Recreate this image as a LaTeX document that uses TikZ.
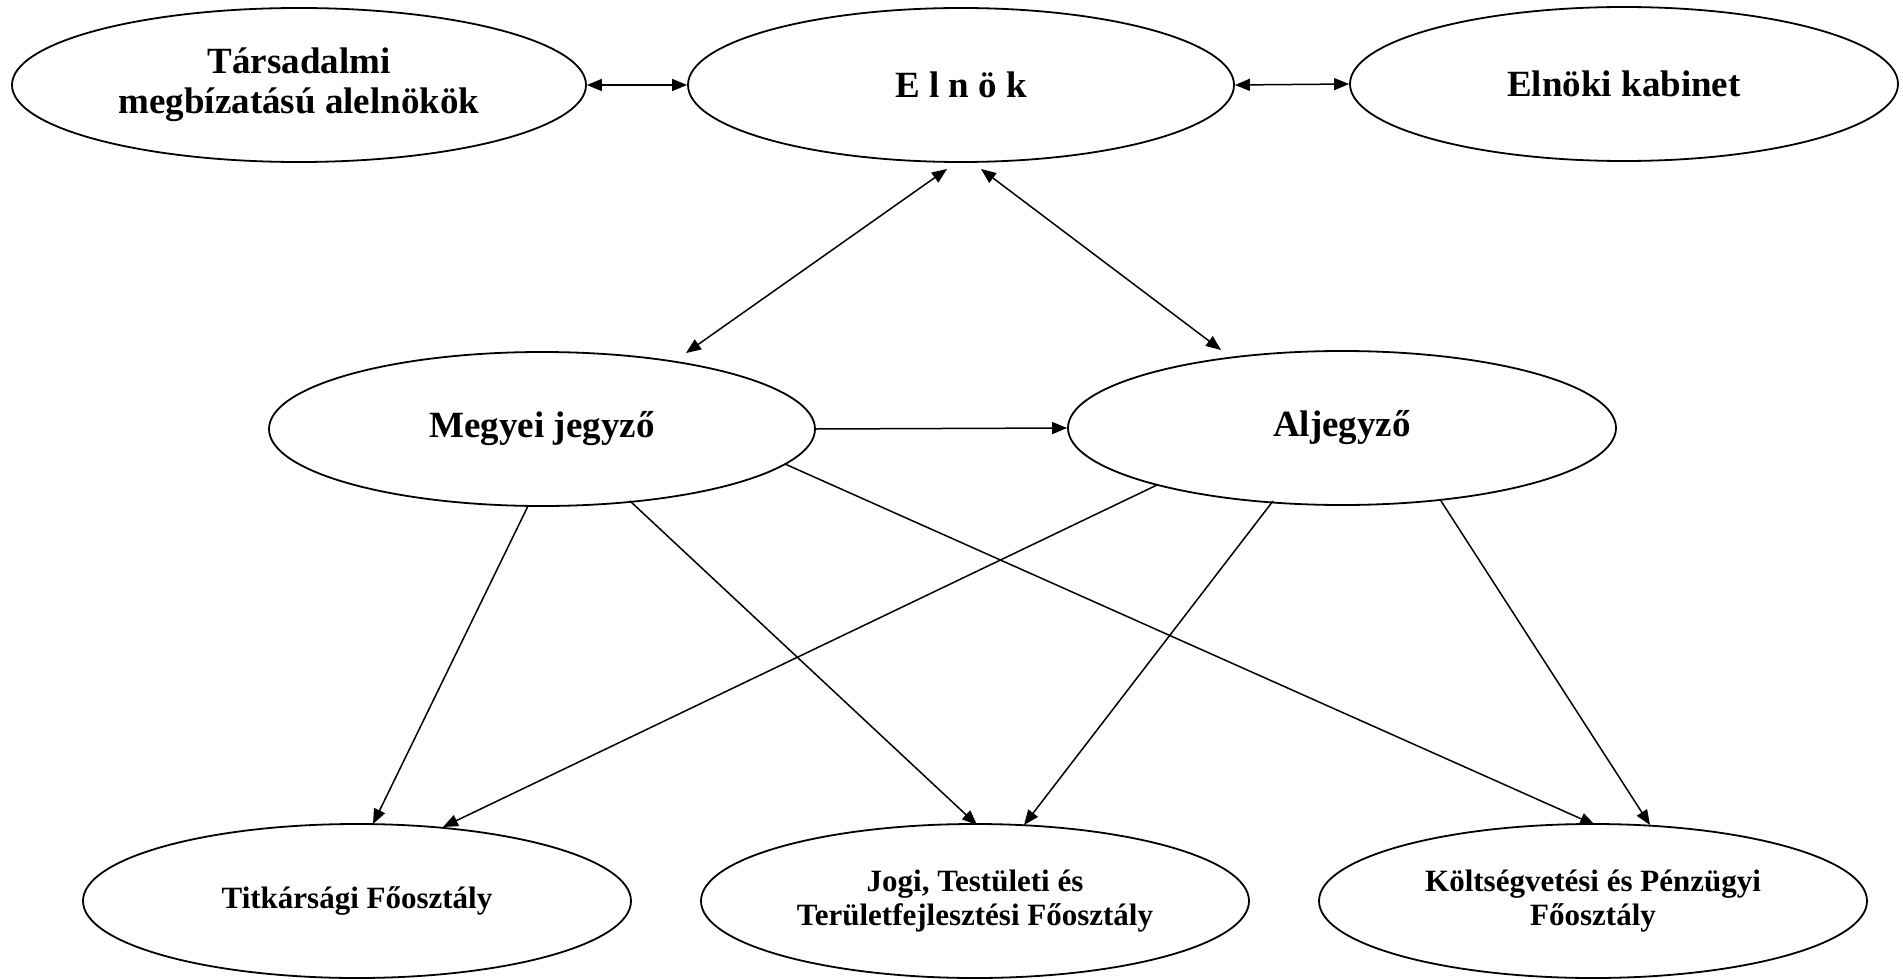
\documentclass[tikz,border=0pt]{standalone}
\usepackage{fontspec}
\setmainfont{Liberation Serif}
\usetikzlibrary{arrows.meta,shapes.geometric,calc}
\begin{document}
\begin{tikzpicture}[x=1pt,y=-1pt,
  box/.style={draw, ellipse, line width=1.8pt, inner sep=0pt, align=center,
    minimum width=548pt, minimum height=154pt,
    font=\bfseries\fontsize{37}{40}\selectfont},
  lowbox/.style={box, font=\bfseries\fontsize{31}{34}\selectfont},
  link/.style={line width=1.5pt, -{Triangle[length=15pt,width=12pt]}},
  both/.style={line width=1.5pt, {Triangle[length=15pt,width=12pt]}-{Triangle[length=15pt,width=12pt]}}]
\useasboundingbox (0,0) rectangle (1903,979);
\node[box, minimum width=574pt] (T) at (299,85) {Társadalmi\\megbízatású alelnökök};
\node[box, minimum width=546pt] (E) at (961,85) {E l n ö k};
\node[box] (K) at (1624,84) {Elnöki kabinet};
\node[box, minimum width=546pt] (M) at (542,429) {Megyei jegyző};
\node[box] (A) at (1342,428) {Aljegyző};
\node[lowbox] (S) at (357,901) {Titkársági Főosztály};
\node[lowbox] (J) at (975,901) {Jogi, Testületi és\\Területfejlesztési Főosztály};
\node[lowbox] (P) at (1593,901) {Költségvetési és Pénzügyi\\Főosztály};
\draw[both] (T.east) -- (E.west);
\draw[both] (E.east) -- (K.west);
\draw[both] ($(E)+(-14,84)$) -- ($(M)+(144,-76)$);
\draw[both] ($(E)+(20,84)$) -- ($(A)+(-121,-78)$);
\draw[link] (M.east) -- (A.west);
\draw[link] ($(M)+(-14,77)$) -- ($(S)+(16,-77)$);
\draw[link] ($(M)+(88,72)$) -- ($(J)+(2,-76)$);
\draw[link] ($(M)+(243,35)$) -- ($(P)+(2,-76)$);
\draw[link] ($(A)+(-185,57)$) -- ($(S)+(86,-74)$);
\draw[link] ($(A)+(-69,73)$) -- ($(J)+(49,-76)$);
\draw[link] ($(A)+(99,73)$) -- ($(P)+(57,-76)$);
\end{tikzpicture}
\end{document}
